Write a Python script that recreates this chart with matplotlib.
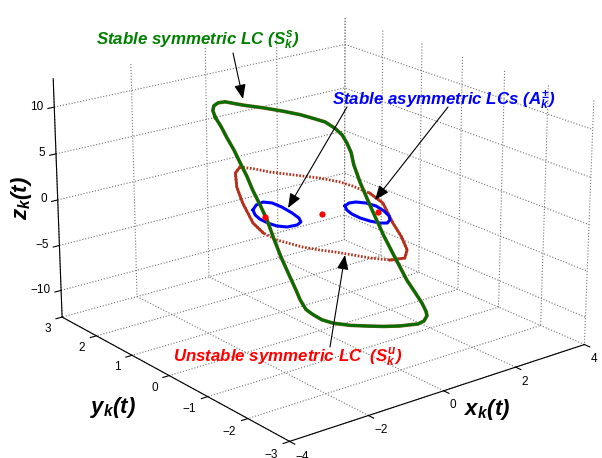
import matplotlib
matplotlib.use('Agg')
import matplotlib.pyplot as plt
from matplotlib.patches import FancyArrowPatch

W, H = 602, 458

# stable symmetric LC
green_x = [-1.82,-1.86,-1.84,-1.77,-1.65,-1.33,-0.99,-0.64,-0.34,-0.12,0.09,0.27,0.39,0.48,0.55,0.60,0.66,0.71,0.80,0.91,1.02,1.14,1.29,1.44,1.56,1.71,1.84,1.91,1.93,1.88,1.77,1.63,1.45,1.16,0.85,0.55,0.24,0.04,-0.12,-0.25,-0.35,-0.42,-0.49,-0.58,-0.69,-0.81,-0.93,-1.05,-1.18,-1.28,-1.40,-1.50,-1.62,-1.72]
green_y = [0.91,0.93,0.92,0.88,0.82,0.67,0.49,0.32,0.17,0.06,-0.05,-0.13,-0.20,-0.24,-0.28,-0.30,-0.33,-0.36,-0.40,-0.45,-0.51,-0.57,-0.65,-0.72,-0.78,-0.86,-0.92,-0.96,-0.97,-0.94,-0.89,-0.81,-0.72,-0.58,-0.43,-0.27,-0.12,-0.02,0.06,0.12,0.18,0.21,0.25,0.29,0.34,0.41,0.47,0.53,0.59,0.64,0.70,0.75,0.81,0.86]
green_z = [10.3,11.0,11.5,11.8,11.9,11.5,11.2,10.8,10.4,10.0,9.6,8.9,8.2,7.3,6.3,5.0,4.0,3.1,1.9,0.4,-1.1,-2.7,-4.5,-6.2,-7.6,-9.0,-10.2,-11.1,-11.6,-12.2,-12.5,-12.6,-12.7,-12.7,-12.6,-12.5,-12.2,-11.8,-11.2,-10.6,-9.5,-8.5,-7.5,-6.3,-4.8,-2.8,-0.7,0.9,2.5,4.0,5.5,6.8,8.1,9.3]

# unstable symmetric LC
red_x = [-1.40,-1.14,-0.88,-0.44,0.00,0.36,0.58,0.88,1.12,1.30,1.46,1.56,1.52,1.26,0.90,0.60,0.28,0.00,-0.30,-0.76,-1.00,-1.18,-1.36,-1.46,-1.48]
red_y = [0.70,0.57,0.44,0.22,-0.00,-0.18,-0.29,-0.44,-0.56,-0.65,-0.73,-0.78,-0.76,-0.63,-0.45,-0.30,-0.14,-0.00,0.15,0.38,0.50,0.59,0.68,0.73,0.74]
red_z = [5.00,4.76,4.41,4.03,3.66,3.19,2.73,1.95,0.84,-1.34,-2.89,-4.32,-5.19,-5.37,-5.10,-4.74,-4.37,-4.11,-3.75,-2.92,-2.13,-1.03,1.15,2.88,4.37]

# stable asymmetric LCs A- and A+
bl_x = [-1.18,-1.12,-1.00,-0.84,-0.67,-0.49,-0.37,-0.33,-0.40,-0.58,-0.76,-0.92,-1.06,-1.14]
bl_y = [0.59,0.56,0.50,0.42,0.33,0.24,0.18,0.17,0.20,0.29,0.38,0.46,0.53,0.57]
bl_z = [0.38,0.91,1.21,1.09,0.63,-0.03,-0.59,-1.03,-1.34,-1.53,-1.40,-1.06,-0.61,-0.17]
br_x = [0.45,0.52,0.64,0.82,1.00,1.14,1.23,1.25,1.20,1.07,0.89,0.72,0.57,0.48]
br_y = [-0.22,-0.26,-0.32,-0.41,-0.50,-0.57,-0.62,-0.62,-0.60,-0.54,-0.45,-0.36,-0.29,-0.24]
br_z = [0.60,0.92,1.01,0.88,0.53,-0.02,-0.57,-1.01,-1.33,-1.31,-1.07,-0.73,-0.28,0.17]

# equilibria
eq_x = [-0.97, 0.04, 1.03]
eq_y = [0.48, -0.02, -0.52]
eq_z = [-0.41, -0.21, -0.12]

x_ticks = [-4, -2, 0, 2, 4]
y_ticks = [-3, -2, -1, 0, 1, 2, 3]
z_ticks = [-10, -5, 0, 5, 10]

plt.rcParams['font.family'] = ['Liberation Sans', 'DejaVu Sans']
plt.rcParams['mathtext.fontset'] = 'custom'
plt.rcParams['mathtext.it'] = 'Liberation Sans:bold:italic'
plt.rcParams['mathtext.rm'] = 'Liberation Sans:bold:italic'
plt.rcParams['mathtext.bf'] = 'Liberation Sans:bold:italic'

fig = plt.figure(figsize=(W / 100, H / 100), dpi=100)
ax = fig.add_axes([0.039, -0.1099, 0.9582, 1.2595], projection='3d')
ax.view_init(19.633, -128.117)
ax.set_proj_type('persp', focal_length=1 / 1.249)
ax.set_box_aspect((1, 1.035, 0.687))

for axis in (ax.xaxis, ax.yaxis, ax.zaxis):
    axis.set_pane_color((1, 1, 1, 0))
    axis.pane.set_edgecolor((1, 1, 1, 0))
    axis._axinfo['grid'].update(color=(0.45, 0.45, 0.45), linestyle=':', linewidth=0.8)
    axis.line.set_color('k')
    axis.line.set_linewidth(0.8)
    axis._axinfo['tick'].update(inward_factor=0.25, outward_factor=0.0)

ax.set_xticks(x_ticks)
ax.set_yticks(y_ticks)
ax.set_zticks(z_ticks)
ax.tick_params(labelsize=8.5)
ax.tick_params(axis='x', pad=-3)
ax.tick_params(axis='y', pad=0)
ax.tick_params(axis='z', pad=-3.5)
plt.setp(ax.get_xticklabels(), ha='left')
plt.setp(ax.get_yticklabels(), ha='right', va='center')
plt.setp(ax.get_zticklabels(), ha='right', va='center')
ax.set_xlim(-4, 4)
ax.set_ylim(-3, 3)
ax.set_zlim(-13, 13)
ax.computed_zorder = False

red = '#b5301a'
ax.plot(red_x + red_x[:1], red_y + red_y[:1], red_z + red_z[:1], color=red, lw=2, ls=(0, (0.6, 0.6)), zorder=2)
# slow parts of the orbit look solid
ax.plot(red_x[7:14], red_y[7:14], red_z[7:14], color=red, lw=2, zorder=2)
ax.plot(red_x[20:] + red_x[:1], red_y[20:] + red_y[:1], red_z[20:] + red_z[:1], color=red, lw=2, zorder=2)

ax.plot(bl_x + bl_x[:1], bl_y + bl_y[:1], bl_z + bl_z[:1], color='b', lw=2.2, zorder=3)
ax.plot(br_x + br_x[:1], br_y + br_y[:1], br_z + br_z[:1], color='b', lw=2.2, zorder=3)

gx, gy, gz = green_x + green_x[:1], green_y + green_y[:1], green_z + green_z[:1]
ax.plot(gx, gy, gz, color='#7a5a20', lw=2.6, zorder=4)
ax.plot(gx, gy, gz, color='#007000', lw=1.9, zorder=5)

ax.plot(eq_x, eq_y, eq_z, 'o', color='r', ms=4.5, mec='none', zorder=6)


def fp(x, y):
    # pixel position from the top-left -> figure fraction
    return (x / W, 1 - y / H)


def arrow(tail, head):
    fig.add_artist(FancyArrowPatch(fp(*tail), fp(*head),
                                   arrowstyle='-|>,head_length=0.55,head_width=0.22',
                                   mutation_scale=16, color='k', lw=0.8, shrinkA=0, shrinkB=0))


arrow((233, 53), (243, 99))
arrow((347, 107), (288, 208))
arrow((448, 107), (375, 200))
arrow((330, 347), (345, 255))

tkw = dict(fontsize=12.2, fontweight='bold', fontstyle='italic', va='baseline', ha='left')
fig.text(*fp(96, 45), r'Stable symmetric LC ($S_k^s$)', color='#008000', **tkw)
fig.text(*fp(332, 104), r'Stable asymmetric LCs ($A_k^{\pm}$)', color='b', **tkw)
fig.text(*fp(173, 362), r'Unstable symmetric LC  ($S_k^u$)', color='r', **tkw)

lkw = dict(fontsize=16, fontweight='bold', fontstyle='italic', ha='center', va='center')
fig.text(*fp(21, 198), r'$z_k(t)$', rotation=90, **lkw)
fig.text(*fp(113, 408), r'$y_k(t)$', **lkw)
fig.text(*fp(487, 410), r'$x_k(t)$', **lkw)

fig.savefig('out.png', dpi=100)
